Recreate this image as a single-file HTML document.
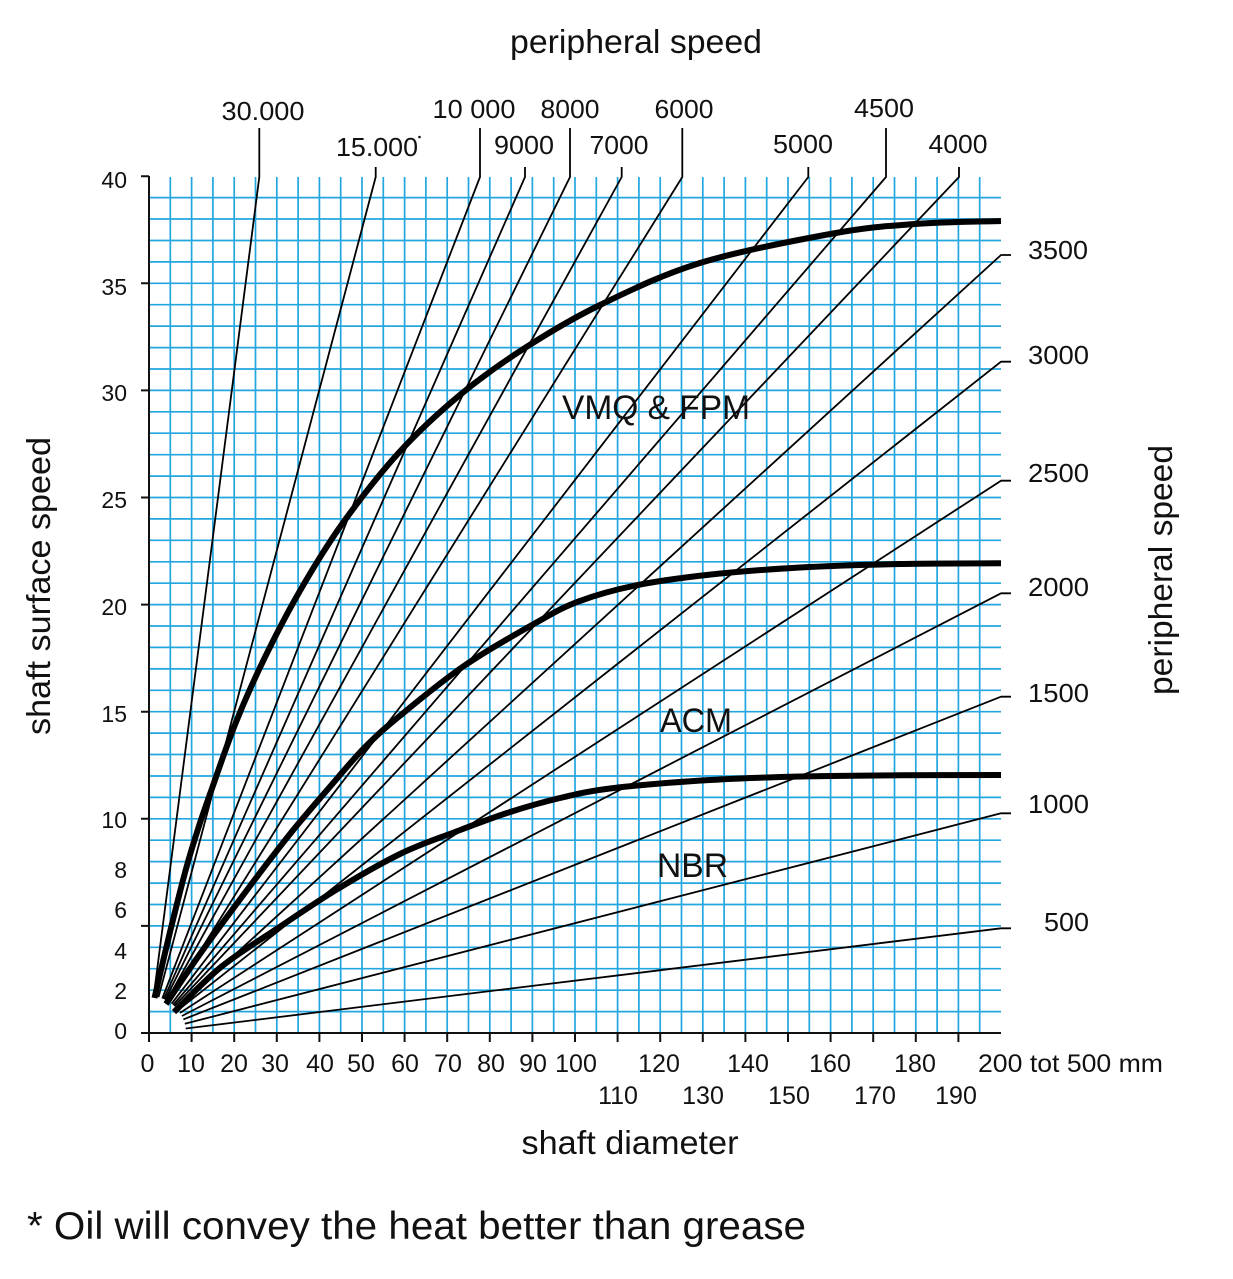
<!DOCTYPE html>
<html>
<head>
<meta charset="utf-8">
<style>
html,body{margin:0;padding:0;background:#fff;}
svg{display:block;}
text{font-family:"Liberation Sans",Arial,sans-serif;fill:#111;}
</style>
</head>
<body>
<svg width="1233" height="1279" viewBox="0 0 1233 1279" xmlns="http://www.w3.org/2000/svg">
<rect width="1233" height="1279" fill="#fff"/>

<!-- grid -->
<g stroke="#22a6e0" stroke-width="1.7" fill="none">
<path d="M170.3 177V1033M191.6 177V1033M212.9 177V1033M234.2 177V1033M255.5 177V1033M276.8 177V1033M298.1 177V1033M319.4 177V1033M340.7 177V1033M362 177V1033M383.3 177V1033M404.6 177V1033M425.9 177V1033M447.2 177V1033M468.5 177V1033M489.8 177V1033M511.1 177V1033M532.4 177V1033M553.7 177V1033M575 177V1033M596.3 177V1033M617.6 177V1033M638.9 177V1033M660.2 177V1033M681.5 177V1033M702.8 177V1033M724.1 177V1033M745.4 177V1033M766.7 177V1033M788 177V1033M809.3 177V1033M830.6 177V1033M851.9 177V1033M873.2 177V1033M894.5 177V1033M915.8 177V1033M937.1 177V1033M958.4 177V1033M979.7 177V1033"/>
<path d="M149 1011.6H1001M149 990.2H1001M149 968.7H1001M149 947.3H1001M149 925.9H1001M149 904.5H1001M149 883.1H1001M149 861.6H1001M149 840.2H1001M149 818.8H1001M149 797.4H1001M149 776H1001M149 754.5H1001M149 733.1H1001M149 711.7H1001M149 690.3H1001M149 668.9H1001M149 647.4H1001M149 626H1001M149 604.6H1001M149 583.2H1001M149 561.8H1001M149 540.3H1001M149 518.9H1001M149 497.5H1001M149 476.1H1001M149 454.7H1001M149 433.2H1001M149 411.8H1001M149 390.4H1001M149 369H1001M149 347.6H1001M149 326.1H1001M149 304.7H1001M149 283.3H1001M149 261.9H1001M149 240.5H1001M149 219H1001M149 197.6H1001"/>
</g>

<!-- axes -->
<g stroke="#111" stroke-width="2" fill="none">
<path d="M149 176V1042M149 1033H1001"/>
<path d="M141 176.2H149M141 283.3H149M141 390.4H149M141 497.5H149M141 604.6H149M141 711.7H149M141 818.8H149M141 925.9H149M141 1033H149"/>
<path d="M191.6 1033V1042M234.2 1033V1042M276.8 1033V1042M319.4 1033V1042M362 1033V1042M404.6 1033V1042M447.2 1033V1042M489.8 1033V1042M532.4 1033V1042M575 1033V1042M617.6 1033V1042M660.2 1033V1042M702.8 1033V1042M745.4 1033V1042M788 1033V1042M830.6 1033V1042M873.2 1033V1042M915.8 1033V1042M958.4 1033V1042"/>
</g>

<!-- peripheral speed lines -->
<g stroke="#000" stroke-width="1.8" fill="none" stroke-linejoin="round">
<path d="M153.7 996.3L259.3 177V128"/>
<path d="M158.5 997.2L375.7 177V167"/>
<path d="M162.3 998.5L480 177V128"/>
<path d="M163.9 999.1L525 177V167"/>
<path d="M165.3 999.8L570 177V128"/>
<path d="M166.9 1000.6L621.7 177V167"/>
<path d="M168.6 1001.6L682.3 177V128"/>
<path d="M171.6 1003.7L808.3 177V167"/>
<path d="M173.1 1005L886 177V128"/>
<path d="M174.4 1006.1L959 177V167"/>
<path d="M176.3 1008.1L1001 255H1011"/>
<path d="M178.1 1010.1L1001 361.7H1011"/>
<path d="M180 1012.9L1001 480.7H1011"/>
<path d="M181.9 1016L1001 593.3H1011"/>
<path d="M183.4 1019.4L1001 696.7H1011"/>
<path d="M184.8 1023.8L1001 813.3H1011"/>
<path d="M185.7 1028.5L1001 928.3H1011"/>
</g>

<!-- thick material curves -->
<g stroke="#000" stroke-width="6" fill="none" stroke-linejoin="round" stroke-linecap="butt">
<path d="M154.5 998 C157.1 987 164.8 953.3 170 932 C175.2 910.7 180.9 887.7 185.7 870 C190.5 852.3 194.5 839.8 199 826 C203.5 812.2 206.4 804.2 212.5 787 C218.6 769.8 227.1 744.3 235.7 722.9 C244.3 701.5 253.6 680.6 264.3 658.6 C275 636.6 286.9 613.3 300 590.7 C313.1 568.1 326.2 546.1 342.9 522.9 C359.6 499.7 380.4 472.8 400 451.4 C419.6 430 439.9 411.6 460.7 394.3 C481.5 377.1 501.8 362.8 525 347.9 C548.2 333 570.8 319.2 600 305 C629.2 290.9 661.2 274.9 700 263 C738.8 251.1 797.2 240 833 233.5 C868.8 227 887 226.1 915 224 C943 221.9 986.7 221.5 1001 221"/>
<path d="M166 1004 C171.7 995.7 186 973.7 200 954 C214 934.3 235 906 250 886 C265 866 277 850.2 290 834 C303 817.8 315.6 803.4 328 789 C340.4 774.7 352.3 760.1 364.3 747.9 C376.3 735.7 383.3 729.4 400 715.7 C416.7 702 441.7 681.2 464.3 665.7 C486.9 650.2 516.6 633.6 535.7 622.9 C554.8 612.2 561.9 607.7 578.6 601.4 C595.3 595.2 613.8 589.9 635.7 585.4 C657.6 580.9 682.6 577.6 710 574.6 C737.4 571.6 768.3 569.3 800 567.5 C831.7 565.7 866.5 564.7 900 564 C933.5 563.3 984.2 563.4 1001 563.3"/>
<path d="M174 1012 C181.8 1004.5 204.2 980.7 221 967 C237.8 953.3 255.8 942.8 275 930 C294.2 917.2 315.2 902.7 336 890 C356.8 877.3 380.2 863.7 400 854 C419.8 844.3 437.2 838.8 455 832 C472.8 825.2 489.5 818.7 507 813 C524.5 807.3 542.2 802.2 560 798 C577.8 793.8 589 791 614 788 C639 785 679 781.9 710 780 C741 778.1 768.3 777.3 800 776.5 C831.7 775.7 866.5 775.6 900 775.3 C933.5 775.1 984.2 775 1001 775"/>
</g>

<!-- material labels -->
<text x="562" y="419" font-size="34" textLength="188" lengthAdjust="spacingAndGlyphs">VMQ &amp; FPM</text>
<text x="660" y="732" font-size="34" textLength="72" lengthAdjust="spacingAndGlyphs">ACM</text>
<text x="657" y="877" font-size="34" textLength="71" lengthAdjust="spacingAndGlyphs">NBR</text>

<!-- top rpm labels -->
<g font-size="26" text-anchor="middle">
<text x="263" y="120" textLength="83" lengthAdjust="spacingAndGlyphs">30.000</text>
<text x="377" y="156" textLength="82" lengthAdjust="spacingAndGlyphs">15.000</text>
<text x="474" y="118" textLength="83" lengthAdjust="spacingAndGlyphs">10 000</text>
<text x="524" y="154" textLength="60" lengthAdjust="spacingAndGlyphs">9000</text>
<text x="570" y="118" textLength="59" lengthAdjust="spacingAndGlyphs">8000</text>
<text x="619" y="154" textLength="59" lengthAdjust="spacingAndGlyphs">7000</text>
<text x="684" y="118" textLength="59" lengthAdjust="spacingAndGlyphs">6000</text>
<text x="803" y="153" textLength="60" lengthAdjust="spacingAndGlyphs">5000</text>
<text x="884" y="117" textLength="60" lengthAdjust="spacingAndGlyphs">4500</text>
<text x="958" y="153" textLength="59" lengthAdjust="spacingAndGlyphs">4000</text>
</g>
<circle cx="419.5" cy="137" r="1.3" fill="#111"/>

<!-- right rpm labels -->
<g font-size="26">
<text x="1028" y="259" textLength="60" lengthAdjust="spacingAndGlyphs">3500</text>
<text x="1028" y="364" textLength="61" lengthAdjust="spacingAndGlyphs">3000</text>
<text x="1028" y="482" textLength="61" lengthAdjust="spacingAndGlyphs">2500</text>
<text x="1028" y="596" textLength="61" lengthAdjust="spacingAndGlyphs">2000</text>
<text x="1028" y="702" textLength="61" lengthAdjust="spacingAndGlyphs">1500</text>
<text x="1028" y="813" textLength="61" lengthAdjust="spacingAndGlyphs">1000</text>
<text x="1044" y="931" textLength="45" lengthAdjust="spacingAndGlyphs">500</text>
</g>

<!-- left axis labels -->
<g font-size="23" text-anchor="end">
<text x="127" y="188">40</text>
<text x="127" y="295">35</text>
<text x="127" y="401">30</text>
<text x="127" y="508">25</text>
<text x="127" y="615">20</text>
<text x="127" y="722">15</text>
<text x="127" y="828">10</text>
<text x="127" y="878">8</text>
<text x="127" y="918">6</text>
<text x="127" y="959">4</text>
<text x="127" y="999">2</text>
<text x="127" y="1039">0</text>
</g>

<!-- bottom axis labels -->
<g font-size="25" text-anchor="middle">
<text x="147.5" y="1072">0</text>
<text x="191" y="1072">10</text>
<text x="234" y="1072">20</text>
<text x="275" y="1072">30</text>
<text x="320" y="1072">40</text>
<text x="361" y="1072">50</text>
<text x="405" y="1072">60</text>
<text x="448" y="1072">70</text>
<text x="491" y="1072">80</text>
<text x="533" y="1072">90</text>
<text x="576" y="1072">100</text>
<text x="659" y="1072">120</text>
<text x="748" y="1072">140</text>
<text x="830" y="1072">160</text>
<text x="915" y="1072">180</text>
<text x="618" y="1104">110</text>
<text x="703" y="1104">130</text>
<text x="789" y="1104">150</text>
<text x="875" y="1104">170</text>
<text x="956" y="1104">190</text>
</g>
<text x="978" y="1072" font-size="25" textLength="185" lengthAdjust="spacingAndGlyphs">200 tot 500 mm</text>

<!-- axis titles -->
<text x="636" y="53" font-size="33" text-anchor="middle" textLength="252" lengthAdjust="spacingAndGlyphs">peripheral speed</text>
<text x="630" y="1154" font-size="33" text-anchor="middle" textLength="217" lengthAdjust="spacingAndGlyphs">shaft diameter</text>
<text transform="translate(50,586) rotate(-90)" font-size="33" text-anchor="middle" textLength="298" lengthAdjust="spacingAndGlyphs">shaft surface speed</text>
<text transform="translate(1172,570) rotate(-90)" font-size="33" text-anchor="middle" textLength="250" lengthAdjust="spacingAndGlyphs">peripheral speed</text>

<!-- footnote -->
<text x="27" y="1239" font-size="39" textLength="779" lengthAdjust="spacingAndGlyphs">* Oil will convey the heat better than grease</text>
</svg>
</body>
</html>
